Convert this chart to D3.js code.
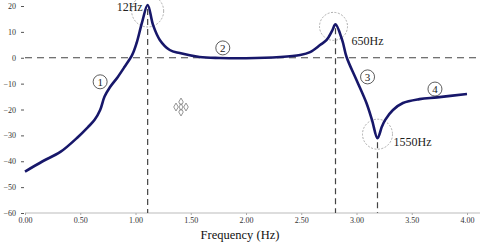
<!DOCTYPE html>
<html>
<head>
<meta charset="utf-8">
<script src="https://cdn.jsdelivr.net/npm/d3@7"></script>
<style>
  body { margin: 0; background: #fff; }
  svg { display: block; }
  text { font-family: "Liberation Serif", "DejaVu Serif", serif; }
</style>
</head>
<body>
<svg id="chart" width="480" height="242"></svg>
<script>
// frequency response
const freq = [0.00, 0.16, 0.32, 0.48, 0.57, 0.63, 0.68, 0.72, 0.77, 0.84, 0.90, 0.97, 1.01, 1.06, 1.11,
              1.16, 1.22, 1.31, 1.40, 1.58, 1.76, 2.00, 2.31, 2.49, 2.58, 2.67, 2.73, 2.78, 2.81,
              2.87, 2.91, 3.00, 3.09, 3.14, 3.19, 3.23, 3.26, 3.33, 3.42, 3.57, 3.73, 4.00];
const gain = [-44, -40, -36.4, -30.6, -26.8, -24, -20.2, -15, -11.3, -7.4, -3.6, 1.1, 5.7, 13.8, 20.4,
              12.5, 6.9, 3, 1.8, 0.3, -0.1, -0.2, 0.3, 1.1, 2.2, 4.9, 6.9, 10.5, 12.9,
              6.9, 0.3, -8.6, -17.5, -24, -31.1, -26.6, -24, -20.2, -17.5, -16, -15.3, -14];

const xTicks = [0, 0.5, 1, 1.5, 2, 2.5, 3, 3.5, 4];
const yTicks = [20, 10, 0, -10, -20, -30, -40, -50, -60];

// resonance markers: frequency, gain, label
const peakFreq = [1.11, 2.81, 3.19];
const peakGain = [20.4, 12.9, -31.1];
const peakLabel = ["12Hz", "650Hz", "1550Hz"];

// circled region numbers
const regionFreq = [0.68, 1.79, 3.10, 3.71];
const regionGain = [-9.3, 3.8, -7.4, -12.1];
const regionLabel = ["1", "2", "3", "4"];

const svg = d3.select("#chart");

const x = d3.scaleLinear().domain([0, 4]).range([25, 467]);
const y = d3.scaleLinear().domain([-60, 20]).range([213, 6]);

// x axis
const xAxis = svg.append("g")
  .attr("transform", `translate(0,${y(-60)})`)
  .call(d3.axisBottom(x).tickValues(xTicks).tickFormat(d3.format(".2f"))
    .tickSize(2).tickPadding(2).tickSizeOuter(0));
xAxis.select(".domain").attr("stroke", "#bbb").attr("d", `M${x(0)},0H480`);
xAxis.selectAll(".tick line").attr("stroke", "#aaa");
xAxis.selectAll("text").attr("font-size", 8).attr("fill", "#333")
  .attr("font-family", "Liberation Serif, serif");

// y axis (ticks only, no spine)
const yAxis = svg.append("g")
  .attr("transform", `translate(${x(0) - 1},0)`)
  .call(d3.axisLeft(y).tickValues(yTicks).tickSize(3).tickPadding(5));
yAxis.select(".domain").remove();
yAxis.selectAll(".tick line").attr("stroke", "#555");
yAxis.selectAll("text").attr("font-size", 8).attr("fill", "#333")
  .attr("font-family", "Liberation Serif, serif");

svg.append("text")
  .attr("x", 240).attr("y", 239)
  .attr("text-anchor", "middle")
  .attr("font-size", 12.5)
  .attr("fill", "#111")
  .text("Frequency (Hz)");

// zero line
svg.append("line")
  .attr("x1", x(0)).attr("x2", 480)
  .attr("y1", y(0)).attr("y2", y(0))
  .attr("stroke", "#444").attr("stroke-width", 1.2)
  .attr("stroke-dasharray", "7,5");

// vertical dashed lines at the resonances
svg.selectAll("line.vdash")
  .data(peakFreq)
  .enter()
  .append("line")
  .attr("class", "vdash")
  .attr("x1", d => x(d)).attr("x2", d => x(d))
  .attr("y1", (d, i) => y(peakGain[i]) + 4)
  .attr("y2", y(-60))
  .attr("stroke", "#444").attr("stroke-width", 1.2)
  .attr("stroke-dasharray", "6,4");

// dashed circles round the peaks
const circR = [16, 14, 15];
const circDy = [6, 2, -4];
svg.selectAll("circle.ring")
  .data(peakFreq)
  .enter()
  .append("circle")
  .attr("class", "ring")
  .attr("cx", (d, i) => x(d) - (i == 1 ? 2 : 0))
  .attr("cy", (d, i) => y(peakGain[i]) + circDy[i])
  .attr("r", (d, i) => circR[i])
  .attr("fill", "none")
  .attr("stroke", "#999")
  .attr("stroke-width", 0.8)
  .attr("stroke-dasharray", "2,1.5");

// response curve
const line = d3.line()
  .x((d, i) => x(freq[i]))
  .y(d => y(d))
  .curve(d3.curveCatmullRom.alpha(0.5));

svg.append("path")
  .datum(gain)
  .attr("d", line)
  .attr("fill", "none")
  .attr("stroke", "#17176a")
  .attr("stroke-width", 2.6)
  .attr("stroke-linejoin", "round");

// peak labels
const labDx = [-5, 16, 16];
const labDy = [6, 21, 8];
svg.selectAll("text.peak")
  .data(peakLabel)
  .enter()
  .append("text")
  .attr("class", "peak")
  .attr("x", (d, i) => x(peakFreq[i]) + labDx[i])
  .attr("y", (d, i) => y(peakGain[i]) + labDy[i])
  .attr("text-anchor", (d, i) => i == 0 ? "end" : "start")
  .attr("font-size", 12)
  .attr("fill", "#222")
  .text(d => d);

// circled numbers
const reg = svg.selectAll("g.region")
  .data(regionLabel)
  .enter()
  .append("g")
  .attr("class", "region")
  .attr("transform", (d, i) => `translate(${x(regionFreq[i])},${y(regionGain[i])})`);
reg.append("circle")
  .attr("r", 7)
  .attr("fill", "#fff")
  .attr("stroke", "#333")
  .attr("stroke-width", 0.8);
reg.append("text")
  .attr("text-anchor", "middle")
  .attr("dy", "0.36em")
  .attr("font-size", 11)
  .attr("fill", "#222")
  .text(d => d);

// little move handle left on the figure
const mv = svg.append("g").attr("transform", "translate(181,107)");
[[0, -5], [5, 0], [0, 5], [-5, 0], [0, 0]].forEach(p => {
  mv.append("path")
    .attr("d", d3.symbol(d3.symbolDiamond, p[0] == 0 && p[1] == 0 ? 14 : 18)())
    .attr("transform", `translate(${p[0]},${p[1]})`)
    .attr("fill", "#fff")
    .attr("stroke", "#777")
    .attr("stroke-width", 0.8);
});
</script>
</body>
</html>
